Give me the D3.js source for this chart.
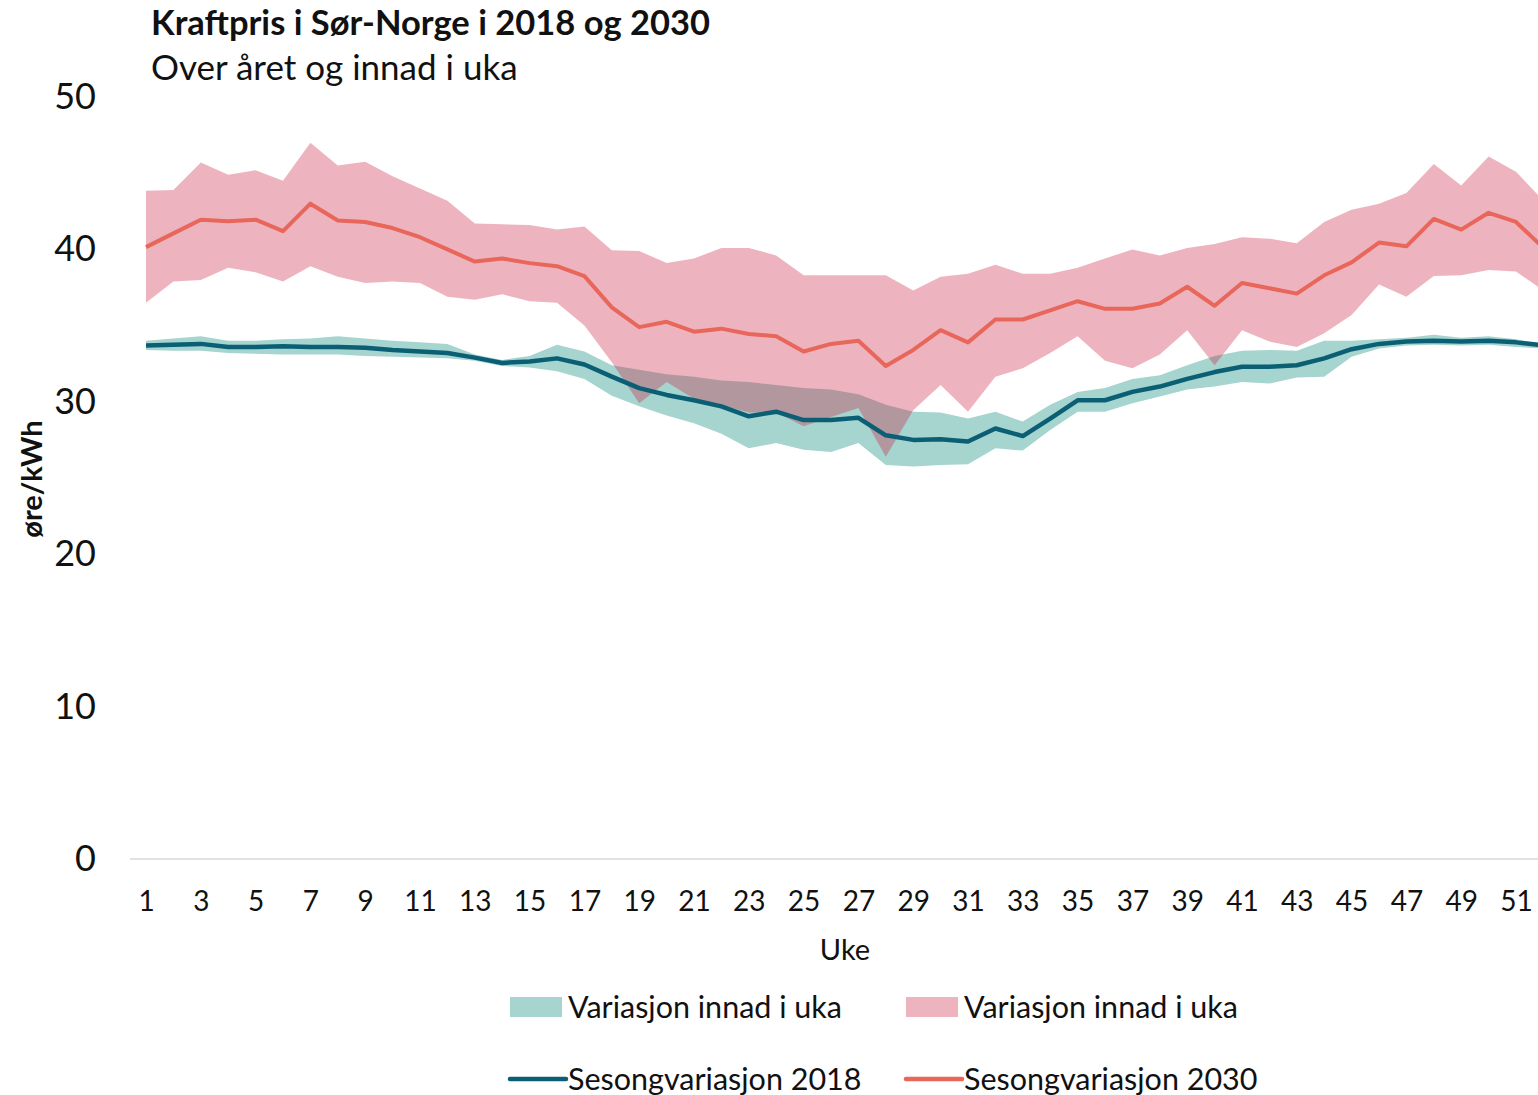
<!doctype html>
<html lang=en>

<head>
  <meta charset=utf-8>
  <title>Kraftpris i Sør-Norge</title>
  <style>
    body { margin: 0; background: #fff; }
    svg { display: block; font-family: Lato, "Open Sans", sans-serif; }
  </style>
</head>

<body>
  <svg></svg>
  <script src="https://d3js.org/d3.v7.min.js"></script>
  <script>
    var width = 1538;
    var height = 1095;

    // weeks 1..52
    var weeks = d3.range(1, 53);
    var weekTicks = d3.range(1, 52, 2);
    var yTicks = [0, 10, 20, 30, 40, 50];

    // 2018: seasonal line and weekly min / max band
    var line2018 = [33.7, 33.75, 33.8, 33.6, 33.6, 33.65, 33.6, 33.6, 33.55, 33.4,
      33.3, 33.2, 32.9, 32.55, 32.65, 32.85, 32.45, 31.65, 30.9, 30.45,
      30.1, 29.7, 29.05, 29.35, 28.8, 28.8, 28.95, 27.8, 27.5, 27.55,
      27.4, 28.25, 27.75, 28.9, 30.1, 30.1, 30.65, 31.0, 31.5, 31.95,
      32.3, 32.3, 32.4, 32.85, 33.45, 33.8, 33.95, 34.0, 33.95, 34.0,
      33.9, 33.7];
    var high2018 = [34.0, 34.15, 34.3, 34.0, 34.0, 34.1, 34.15, 34.3, 34.15, 34.0,
      33.9, 33.8, 33.1, 32.75, 33.0, 33.75, 33.3, 32.4, 32.1, 31.8,
      31.65, 31.4, 31.3, 31.1, 30.9, 30.8, 30.5, 29.8, 29.35, 29.3,
      28.9, 29.35, 28.7, 29.8, 30.65, 30.9, 31.5, 31.75, 32.4, 33.0,
      33.35, 33.4, 33.35, 34.0, 34.0, 34.1, 34.2, 34.4, 34.2, 34.3,
      34.1, 33.8];
    var low2018 = [33.4, 33.35, 33.35, 33.2, 33.15, 33.1, 33.1, 33.1, 33.0, 32.95,
      32.9, 32.85, 32.7, 32.35, 32.25, 32.0, 31.5, 30.4, 29.7, 29.1,
      28.6, 27.9, 26.95, 27.3, 26.85, 26.7, 27.3, 25.85, 25.75, 25.85,
      25.9, 26.95, 26.8, 28.15, 29.35, 29.35, 29.9, 30.35, 30.8, 31.0,
      31.3, 31.2, 31.6, 31.65, 32.95, 33.5, 33.7, 33.75, 33.7, 33.75,
      33.6, 33.5];

    // 2030: seasonal line and weekly min / max band
    var line2030 = [40.15, 41.05, 41.95, 41.85, 41.95, 41.2, 43.0, 41.9, 41.8, 41.4,
      40.8, 40.0, 39.2, 39.4, 39.1, 38.9, 38.25, 36.2, 34.9, 35.25,
      34.6, 34.8, 34.45, 34.3, 33.3, 33.8, 34.0, 32.35, 33.4, 34.7,
      33.9, 35.4, 35.4, 36.0, 36.6, 36.1, 36.1, 36.45, 37.55, 36.3,
      37.8, 37.45, 37.1, 38.3, 39.15, 40.45, 40.2, 42.0, 41.3, 42.4,
      41.8, 40.1];
    var high2030 = [43.85, 43.9, 45.7, 44.9, 45.2, 44.5, 47.0, 45.5, 45.75, 44.8,
      44.0, 43.2, 41.7, 41.65, 41.6, 41.3, 41.5, 39.95, 39.9, 39.1,
      39.4, 40.1, 40.1, 39.6, 38.3, 38.3, 38.3, 38.3, 37.3, 38.2,
      38.4, 39.0, 38.4, 38.4, 38.8, 39.4, 40.0, 39.6, 40.1, 40.35,
      40.8, 40.7, 40.4, 41.8, 42.6, 43.0, 43.7, 45.6, 44.2, 46.1,
      45.1, 43.2];
    var low2030 = [36.5, 37.9, 38.0, 38.8, 38.5, 37.9, 38.9, 38.2, 37.8, 37.9,
      37.8, 36.9, 36.7, 37.05, 36.6, 36.5, 35.0, 32.6, 29.9, 31.3,
      30.2, 29.8, 29.3, 29.3, 28.4, 29.0, 29.6, 26.4, 29.45, 31.1,
      29.35, 31.65, 32.2, 33.2, 34.3, 32.7, 32.2, 33.1, 34.7, 32.4,
      34.7, 33.95, 33.6, 34.5, 35.7, 37.7, 36.9, 38.25, 38.3, 38.65,
      38.55, 37.3];

    var svg = d3.select("svg")
      .attr("width", width)
      .attr("height", height);

    var x = d3.scalePoint()
      .domain(weeks)
      .range([146, 146 + 51 * 27.4]);

    var y = d3.scaleLinear()
      .domain([0, 50])
      .range([859, 97]);

    var band = d3.area()
      .x(function (d) { return x(d.w); })
      .y0(function (d) { return y(d.lo); })
      .y1(function (d) { return y(d.hi); });

    var line = d3.line()
      .x(function (d) { return x(d.w); })
      .y(function (d) { return y(d.v); });

    function rows(lo, hi) {
      return weeks.map(function (w, i) { return { w: w, lo: lo[i], hi: hi[i] }; });
    }
    function pts(vals) {
      return weeks.map(function (w, i) { return { w: w, v: vals[i] }; });
    }

    // baseline
    svg.append("line")
      .attr("x1", 130).attr("x2", width + 30)
      .attr("y1", y(0)).attr("y2", y(0))
      .style("stroke", "#d9d9d9")
      .style("stroke-width", 1.5);

    // bands
    svg.append("path")
      .datum(rows(low2018, high2018))
      .attr("d", band)
      .style("fill", "#a6d4cf");

    svg.append("path")
      .datum(rows(low2030, high2030))
      .attr("d", band)
      .style("fill", "rgb(203,34,66)")
      .style("fill-opacity", 0.34);

    // seasonal lines
    svg.append("path")
      .datum(pts(line2018))
      .attr("d", line)
      .style("fill", "none")
      .style("stroke", "#0b5f75")
      .style("stroke-width", 4.5)
      .style("stroke-linejoin", "round");

    svg.append("path")
      .datum(pts(line2030))
      .attr("d", line)
      .style("fill", "none")
      .style("stroke", "#e8665a")
      .style("stroke-width", 4)
      .style("stroke-linejoin", "round");

    // axes
    var yAxis = svg.append("g")
      .attr("transform", "translate(96,0)")
      .call(d3.axisLeft(y).tickValues(yTicks).tickSize(0).tickPadding(0));
    yAxis.select(".domain").remove();
    yAxis.selectAll("text")
      .style("font-family", "Lato, sans-serif")
      .style("font-size", "36px")
      .style("fill", "#111");

    var xAxis = svg.append("g")
      .attr("transform", "translate(0," + y(0) + ")")
      .call(d3.axisBottom(x).tickValues(weekTicks).tickSize(0).tickPadding(32));
    xAxis.select(".domain").remove();
    xAxis.selectAll("text")
      .style("font-family", "Lato, sans-serif")
      .style("font-size", "28px")
      .style("fill", "#111");

    // titles
    svg.append("text")
      .attr("x", 151).attr("y", 35)
      .style("font-size", "34.5px")
      .style("font-weight", "bold")
      .style("fill", "#111")
      .text("Kraftpris i Sør-Norge i 2018 og 2030");

    svg.append("text")
      .attr("x", 151).attr("y", 80)
      .style("font-size", "35px")
      .style("fill", "#111")
      .text("Over året og innad i uka");

    svg.append("text")
      .attr("transform", "translate(42,479) rotate(-90)")
      .attr("text-anchor", "middle")
      .style("font-size", "29px")
      .style("font-weight", "bold")
      .style("fill", "#111")
      .text("øre/kWh");

    svg.append("text")
      .attr("x", 845).attr("y", 960)
      .attr("text-anchor", "middle")
      .style("font-size", "29px")
      .style("fill", "#111")
      .text("Uke");

    // legend
    var legendItems = [
      { label: "Variasjon innad i uka", type: "rect", fill: "#a6d4cf", opacity: 1, x: 510, y: 1007 },
      { label: "Variasjon innad i uka", type: "rect", fill: "rgb(203,34,66)", opacity: 0.34, x: 906, y: 1007 },
      { label: "Sesongvariasjon 2018", type: "line", fill: "#0b5f75", x: 510, y: 1079 },
      { label: "Sesongvariasjon 2030", type: "line", fill: "#e8665a", x: 906, y: 1079 }
    ];

    var lg = svg.append("g").selectAll("g")
      .data(legendItems)
      .join("g")
      .attr("transform", function (d) { return "translate(" + d.x + "," + d.y + ")"; });

    lg.filter(function (d) { return d.type === "rect"; })
      .append("rect")
      .attr("x", 0).attr("y", -10)
      .attr("width", 52).attr("height", 20)
      .style("fill", function (d) { return d.fill; })
      .style("fill-opacity", function (d) { return d.opacity; });

    lg.filter(function (d) { return d.type === "line"; })
      .append("line")
      .attr("x1", 0).attr("x2", 56)
      .style("stroke", function (d) { return d.fill; })
      .style("stroke-width", 4.5)
      .style("stroke-linecap", "round");

    lg.append("text")
      .attr("x", 58)
      .attr("dy", "0.35em")
      .style("font-size", "30.5px")
      .style("fill", "#111")
      .text(function (d) { return d.label; });
  </script>
</body>

</html>
